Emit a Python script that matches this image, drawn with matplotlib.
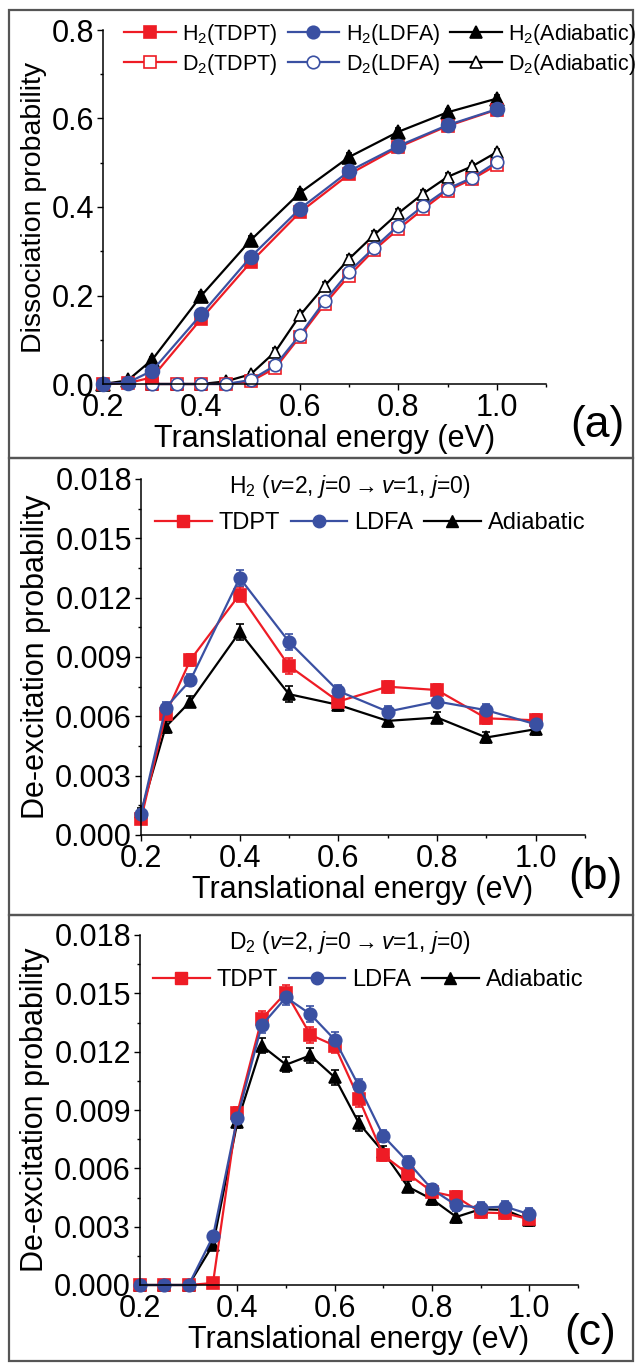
import matplotlib
matplotlib.use("Agg")
import matplotlib.pyplot as plt
from matplotlib.lines import Line2D
from matplotlib.patches import Rectangle
from matplotlib.ticker import MultipleLocator

plt.rcParams['font.family'] = ['Liberation Sans', 'DejaVu Sans']
plt.rcParams['mathtext.fontset'] = 'custom'
plt.rcParams['mathtext.rm'] = 'Liberation Sans'
plt.rcParams['mathtext.it'] = 'Liberation Sans:italic'

RED = "#ee1c25"
BLUE = "#3a50a2"
BLACK = "#000000"

# ---- panel (a): dissociation probability ----
x_h2 = [0.2, 0.25, 0.3, 0.4, 0.5, 0.6, 0.7, 0.8, 0.9, 1.0]
h2_tdpt = [0.0, 0.002, 0.015, 0.148, 0.275, 0.388, 0.474, 0.535, 0.583, 0.620]
h2_ldfa = [0.0, 0.003, 0.030, 0.158, 0.287, 0.396, 0.481, 0.538, 0.585, 0.621]
h2_adia = [0.0, 0.008, 0.055, 0.200, 0.325, 0.432, 0.513, 0.570, 0.614, 0.645]
h2_err = [0.003, 0.004, 0.006, 0.008, 0.009, 0.009, 0.009, 0.008, 0.008, 0.008]

x_d2 = [0.3, 0.35, 0.4, 0.45, 0.5, 0.55, 0.6, 0.65, 0.7, 0.75, 0.8, 0.85, 0.9, 0.95, 1.0]
d2_tdpt = [0.0, 0.0, 0.0, 0.0, 0.006, 0.036, 0.107, 0.180, 0.245, 0.302, 0.350, 0.395, 0.437, 0.463, 0.495]
d2_ldfa = [0.0, 0.0, 0.0, 0.0, 0.009, 0.042, 0.111, 0.187, 0.254, 0.307, 0.358, 0.402, 0.441, 0.466, 0.502]
d2_adia = [0.0, 0.0, 0.0, 0.006, 0.022, 0.073, 0.155, 0.221, 0.283, 0.336, 0.386, 0.430, 0.468, 0.492, 0.524]
d2_err = [0.003, 0.003, 0.003, 0.004, 0.006, 0.008, 0.009, 0.009, 0.009, 0.009, 0.009, 0.009, 0.008, 0.008, 0.008]

# ---- panel (b): H2 de-excitation ----
x_b = [0.2, 0.25, 0.3, 0.4, 0.5, 0.6, 0.7, 0.8, 0.9, 1.0]
b_tdpt = [0.0008, 0.0061, 0.00885, 0.01216, 0.00855, 0.00675, 0.0075, 0.00733, 0.0059, 0.0058]
b_ldfa = [0.00106, 0.00644, 0.00782, 0.0130, 0.00977, 0.00728, 0.00624, 0.00675, 0.00631, 0.0056]
b_adia = [0.00114, 0.00547, 0.00675, 0.01026, 0.00712, 0.00658, 0.00577, 0.00594, 0.00493, 0.00535]
b_err = [0.0002, 0.0003, 0.0003, 0.0004, 0.0004, 0.0003, 0.0003, 0.0003, 0.0003, 0.0003]

# ---- panel (c): D2 de-excitation ----
x_c = [0.2, 0.25, 0.3, 0.35, 0.4, 0.45, 0.5, 0.55, 0.6, 0.65, 0.7, 0.75, 0.8, 0.85, 0.9, 0.95, 1.0]
c_tdpt = [0.0, 0.0, 0.0, 0.0001, 0.00885, 0.01368, 0.01504, 0.01287, 0.01231, 0.00957, 0.00667,
          0.00573, 0.0048, 0.00453, 0.00373, 0.00369, 0.00338]
c_ldfa = [0.0, 0.0, 0.0, 0.0025, 0.0086, 0.01335, 0.01479, 0.01393, 0.01262, 0.01022, 0.00766,
          0.00634, 0.00492, 0.0041, 0.00398, 0.00403, 0.00364]
c_adia = [0.0, 0.0, 0.0, 0.00207, 0.00838, 0.01231, 0.01133, 0.01181, 0.01068, 0.00831, 0.00684,
          0.00506, 0.00441, 0.0035, 0.0039, 0.00386, 0.00335]
c_err = [0.0001, 0.0001, 0.0001, 0.0002, 0.0003, 0.0004, 0.0004, 0.0004, 0.0004, 0.0004, 0.0003,
         0.0003, 0.0003, 0.0003, 0.0003, 0.0003, 0.0003]

W, H = 635, 1363
fig = plt.figure(figsize=(W / 100, H / 100), dpi=100)


def rect(l, r, t, b):
    return [l / W, (H - b) / H, (r - l) / W, (b - t) / H]


# panel frames
for top, bot in [(10, 458), (458, 915), (915, 1361)]:
    fig.patches.append(Rectangle((9 / W, (H - bot) / H), (633 - 9) / W, (bot - top) / H,
                                 transform=fig.transFigure, fill=False,
                                 edgecolor="#555555", linewidth=1.6))


def style(ax, ymax, ymaj, ymin, ylabel, fmt, ylsize=22):
    ax.set_xlim(0.2, 1.1)
    ax.set_ylim(0, ymax)
    ax.set_xticks([0.2, 0.4, 0.6, 0.8, 1.0])
    ax.xaxis.set_minor_locator(MultipleLocator(0.1))
    ax.yaxis.set_major_locator(MultipleLocator(ymaj))
    ax.yaxis.set_minor_locator(MultipleLocator(ymin))
    ax.yaxis.set_major_formatter(plt.FuncFormatter(lambda v, p: fmt.format(v)))
    ax.xaxis.set_major_formatter(plt.FuncFormatter(lambda v, p: "{:.1f}".format(v)))
    for s in ["top", "right"]:
        ax.spines[s].set_visible(False)
    for s in ["left", "bottom"]:
        ax.spines[s].set_linewidth(1.1)
    ax.tick_params(which="major", direction="out", length=4.5, width=1.0, labelsize=22, pad=2)
    ax.tick_params(which="minor", direction="out", length=2.5, width=1.0)
    ax.set_xlabel("Translational energy (eV)", fontsize=22, labelpad=1)
    ax.set_ylabel(ylabel, fontsize=ylsize, labelpad=3)


def series(ax, x, y, e, color, marker, filled=True, ms=8, ecolor=None, cap=3):
    ax.errorbar(x, y, yerr=e, color=color, marker=marker, ms=ms, lw=1.6,
                mfc=color if filled else "white", mec=color, mew=1.2,
                ecolor=ecolor or color, elinewidth=1.2, capsize=cap, capthick=1.2,
                clip_on=False)


# ---------------- (a) ----------------
ax = fig.add_axes(rect(103, 546, 30, 384))
series(ax, x_d2, d2_adia, d2_err, BLACK, "^", filled=False, ms=9, cap=2.5)
series(ax, x_d2, d2_tdpt, d2_err, RED, "s", filled=False, ms=8, cap=2.5)
series(ax, x_d2, d2_ldfa, d2_err, BLUE, "o", filled=False, ms=9, cap=2.5)
series(ax, x_h2, h2_adia, h2_err, BLACK, "^", ms=10, cap=2.5)
series(ax, x_h2, h2_tdpt, h2_err, RED, "s", ms=8, ecolor="#5a0a10", cap=2.5)
series(ax, x_h2, h2_ldfa, h2_err, BLUE, "o", ms=10, ecolor="#1c1c3c", cap=2.5)
style(ax, 0.8, 0.2, 0.1, "Dissociation probability", "{:.1f}", ylsize=20.5)

labels_a = ["H$_2$(TDPT)", "D$_2$(TDPT)", "H$_2$(LDFA)", "D$_2$(LDFA)",
            "H$_2$(Adiabatic)", "D$_2$(Adiabatic)"]
specs_a = [(RED, "s", True), (RED, "s", False), (BLUE, "o", True), (BLUE, "o", False),
           (BLACK, "^", True), (BLACK, "^", False)]
handles = [Line2D([], [], color=c, marker=m, ms=9, lw=1.6, mec=c, mew=1.2,
                  mfc=c if f else "white") for c, m, f in specs_a]
fig.legend(handles, labels_a, loc="upper left", bbox_to_anchor=(124 / W, 1 - 22 / H),
           ncol=3, frameon=False, fontsize=15.5, handlelength=2.4, handletextpad=0.3,
           columnspacing=0.45, labelspacing=0.22, borderpad=0, borderaxespad=0)
fig.text(597 / W, 1 - 425 / H, "(a)", fontsize=32, ha="center", va="center")

# ---------------- (b) and (c) ----------------
panels = [
    (rect(141, 585, 479, 835), x_b, b_tdpt, b_ldfa, b_adia, b_err,
     r"H$_2$ ($v$=2, $j$=0$\rightarrow$$v$=1, $j$=0)", 487, 523, 155, "(b)", (595, 877)),
    (rect(140, 578, 935, 1285), x_c, c_tdpt, c_ldfa, c_adia, c_err,
     r"D$_2$ ($v$=2, $j$=0$\rightarrow$$v$=1, $j$=0)", 942, 980, 153, "(c)", (590, 1333)),
]
for pos, x, tdpt, ldfa, adia, err, title, ty, ly, lx, tag, tagxy in panels:
    ax = fig.add_axes(pos)
    series(ax, x, adia, err, BLACK, "^", ms=9)
    series(ax, x, tdpt, err, RED, "s", ms=8)
    series(ax, x, ldfa, err, BLUE, "o", ms=9)
    style(ax, 0.018, 0.003, 0.0015, "De-excitation probability", "{:.3f}")
    fig.text(350 / W, 1 - ty / H, title, fontsize=16.5, ha="center", va="center")
    hs = [Line2D([], [], color=c, marker=m, ms=9, lw=1.6, mec=c) for c, m in
          [(RED, "s"), (BLUE, "o"), (BLACK, "^")]]
    fig.legend(hs, ["TDPT", "LDFA", "Adiabatic"], loc="center left",
               bbox_to_anchor=(lx / W, 1 - ly / H), ncol=3, frameon=False, fontsize=17,
               handlelength=2.4, handletextpad=0.3, columnspacing=0.45, borderpad=0,
               borderaxespad=0)
    fig.text(tagxy[0] / W, 1 - tagxy[1] / H, tag, fontsize=32, ha="center", va="center")

fig.savefig("out.png", dpi=100)
